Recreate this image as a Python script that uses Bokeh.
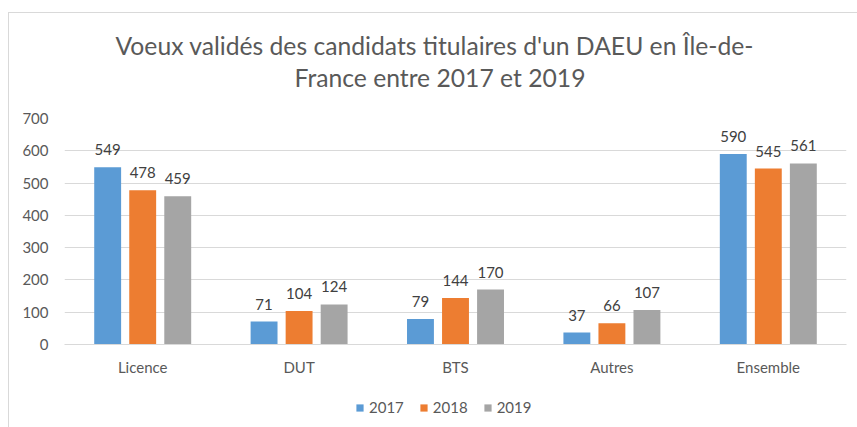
from bokeh.plotting import figure
from bokeh.layouts import column
from bokeh.models import (ColumnDataSource, FactorRange, LabelSet, Legend, LegendItem,
                          FixedTicker, Title, InlineStyleSheet)
from bokeh.core.properties import value
from bokeh.transform import dodge
from bokeh.embed import file_html
from bokeh.resources import INLINE

categories = ["Licence", "DUT", "BTS", "Autres", "Ensemble"]
years = ["2017", "2018", "2019"]
v2017 = [549, 71, 79, 37, 590]
v2018 = [478, 104, 144, 66, 545]
v2019 = [459, 124, 170, 107, 561]
colors = ["#5B9BD5", "#ED7D31", "#A5A5A5"]
title_lines = ["Voeux validés des candidats titulaires d'un DAEU en Île-de-",
               "France entre 2017 et 2019"]
y_ticks = [0, 100, 200, 300, 400, 500, 600, 700]

FONT = "Lato"
GRAY_TXT = "#595959"
src = ColumnDataSource(dict(cat=categories, v2017=v2017, v2018=v2018, v2019=v2019,
                            l2017=[str(v) for v in v2017],
                            l2018=[str(v) for v in v2018],
                            l2019=[str(v) for v in v2019]))

main_css = InlineStyleSheet(css="""
:host::after {
  content: ""; position: absolute; left: 8px; top: 12px; right: 0px; bottom: 0px;
  border-left: 1px solid #D9D9D9; border-top: 1px solid #D9D9D9; pointer-events: none;
}
""")
leg_css = InlineStyleSheet(css="""
:host::after {
  content: ""; position: absolute; left: 8px; top: 0px; right: 0px; bottom: 0px;
  border-left: 1px solid #D9D9D9; pointer-events: none;
}
""")

p = figure(x_range=FactorRange(*categories, range_padding=0), y_range=(0, 700),
           frame_width=782, frame_height=226, output_backend="svg", toolbar_location=None,
           min_border_left=64, min_border_right=11, min_border_top=118, min_border_bottom=52,
           stylesheets=[main_css])
p.outline_line_color = None
p.background_fill_color = "white"
p.border_fill_color = "white"

offsets = [-0.224, 0.0, 0.224]
for yr, col, off in zip(years, colors, offsets):
    p.vbar(x=dodge("cat", off, range=p.x_range), top="v" + yr, width=0.172,
           source=src, fill_color=col, line_color=None)
    p.add_layout(LabelSet(x=dodge("cat", off, range=p.x_range), y="v" + yr, text="l" + yr,
                          source=src, text_align="center", text_baseline="alphabetic",
                          y_offset=12, text_font=value(FONT), text_font_size=value("15px"),
                          text_color=value("#404040")))

p.xgrid.grid_line_color = None
p.ygrid.grid_line_color = "#D9D9D9"
p.ygrid.ticker = FixedTicker(ticks=y_ticks)

p.yaxis.ticker = FixedTicker(ticks=y_ticks)
p.yaxis.axis_line_color = None
p.yaxis.major_tick_line_color = None
p.yaxis.minor_tick_line_color = None
p.yaxis.major_tick_out = 0
p.yaxis.major_label_standoff = 16
p.yaxis.major_label_text_font = FONT
p.yaxis.major_label_text_font_size = "15px"
p.yaxis.major_label_text_color = GRAY_TXT

p.xaxis.axis_line_color = "#D9D9D9"
p.xaxis.major_tick_line_color = None
p.xaxis.minor_tick_line_color = None
p.xaxis.major_tick_out = 0
p.xaxis.major_label_standoff = 13
p.xaxis.major_label_text_font = FONT
p.xaxis.major_label_text_font_size = "15px"
p.xaxis.major_label_text_color = GRAY_TXT

# Title: spacer closest to frame, then second line, then first line
p.add_layout(Title(text="\u00a0", text_font=FONT, text_font_size="10px", standoff=11,
                   text_color="white"), "above")
p.add_layout(Title(text=title_lines[1], align="left", offset=230, standoff=3,
                   text_font=FONT, text_font_size="24.7px", text_font_style="normal",
                   text_color=GRAY_TXT), "above")
p.add_layout(Title(text=title_lines[0], align="left", offset=51, standoff=0,
                   text_font=FONT, text_font_size="24.7px", text_font_style="normal",
                   text_color=GRAY_TXT), "above")

# Legend strip below the chart (its frame is aligned with the main frame by the column)
p2 = figure(width=857, height=31, x_range=(0, 1), y_range=(0, 1),
            x_axis_location=None, y_axis_location=None, output_backend="svg",
            toolbar_location=None, min_border=0, stylesheets=[leg_css])
p2.outline_line_color = None
p2.grid.visible = False
leg_renderers = [p2.vbar(x=[-10], top=[-10], width=0.5, fill_color=col, line_color=None)
                 for col in colors]
legend = Legend(items=[LegendItem(label=yr, renderers=[r]) for yr, r in zip(years, leg_renderers)],
                orientation="horizontal", location=(291, 11),
                glyph_width=9, glyph_height=9, label_standoff=5, spacing=15,
                padding=0, margin=0, border_line_color=None, background_fill_alpha=0,
                label_text_font=FONT, label_text_font_size="15px", label_text_color=GRAY_TXT,
                label_height=9)
p2.add_layout(legend, "center")

layout = column(p, p2, spacing=0)
open("out.html", "w").write(file_html(layout, INLINE))
